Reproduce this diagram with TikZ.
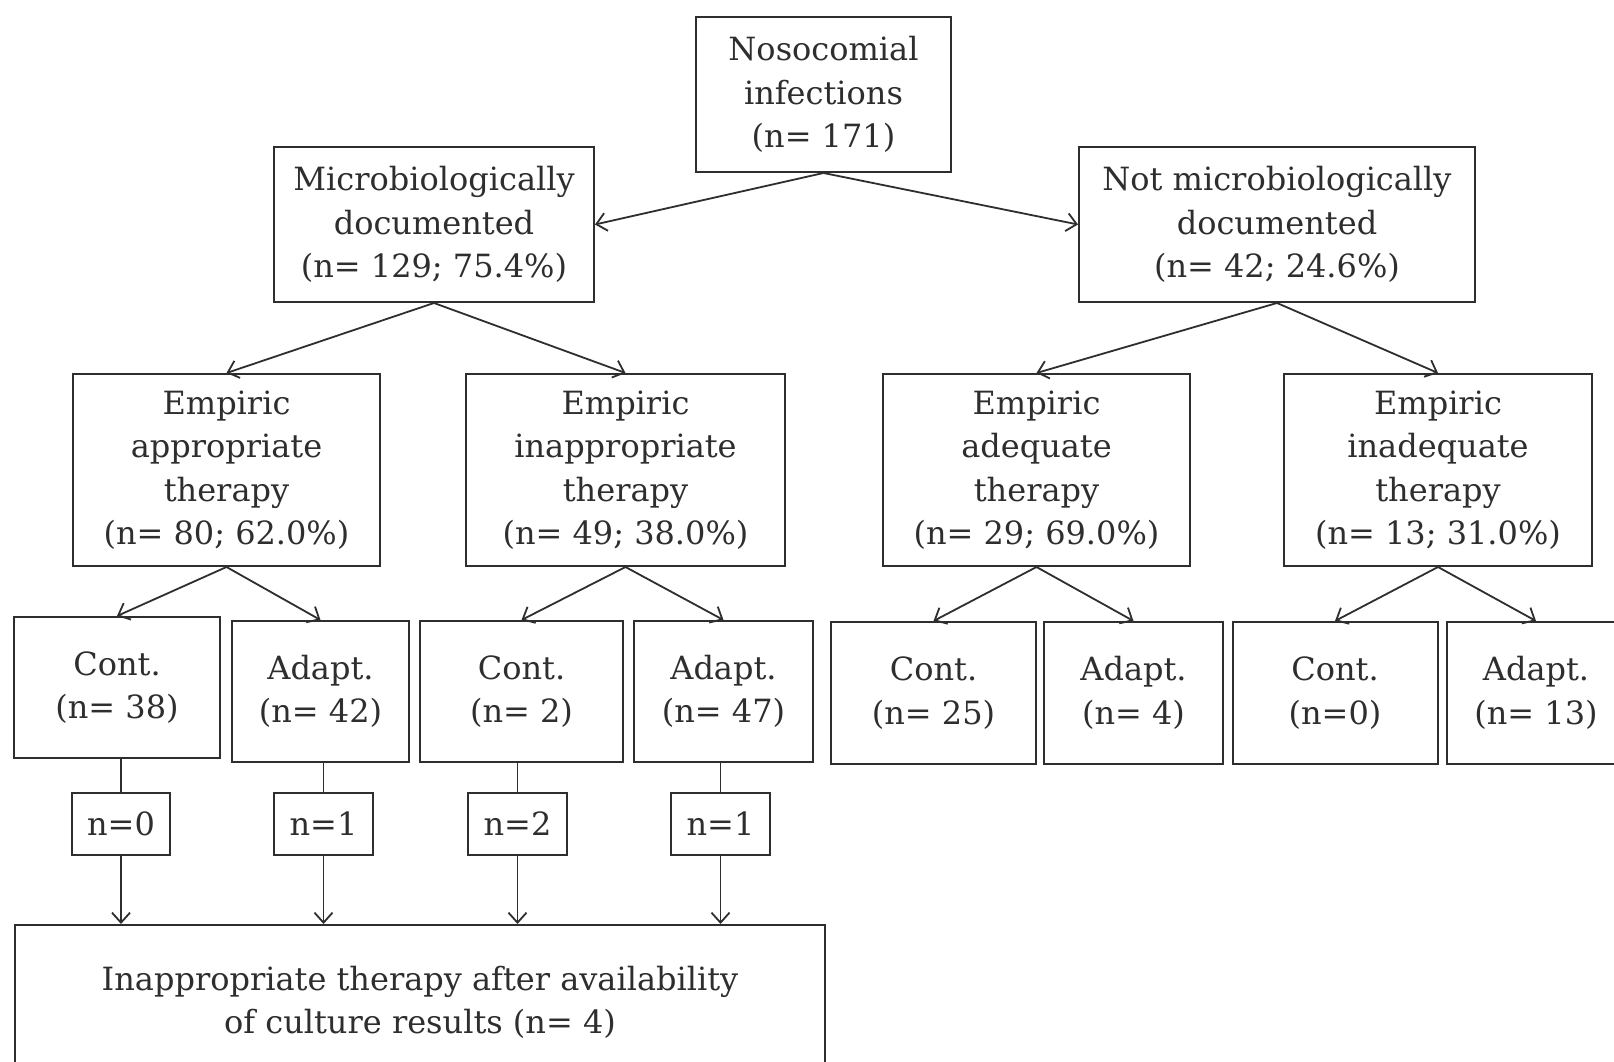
\documentclass[tikz,border=0pt]{standalone}
\usepackage{fontspec}
\setmainfont{DejaVu Serif}
\usetikzlibrary{arrows.meta}
\definecolor{ink}{HTML}{2E2E2E}
\begin{document}
\begin{tikzpicture}[x=1pt,y=-1pt,
  box/.style={draw=ink, line width=2pt, rectangle, align=center, inner sep=0pt, text=ink,
    font=\fontsize{32}{43.5}\selectfont},
  arr/.style={draw=ink, line width=1.8pt, -{Straight Barb[length=10pt,width=18pt,line width=1.8pt]}},
  ln/.style={draw=ink, line width=1.8pt}]
\clip (0,0) rectangle (1614,1062);
\fill[white] (0,0) rectangle (1614,1062);
% level 0/1
\node[box, minimum width=255pt, minimum height=155pt] (root) at (823.5,94.5) {Nosocomial\\infections\\(n= 171)};
\node[box, minimum width=320pt, minimum height=155pt] (mic) at (434,224.5) {Microbiologically\\documented\\(n= 129; 75.4\%)};
\node[box, minimum width=396pt, minimum height=155pt] (nmic) at (1277,224.5) {Not microbiologically\\documented\\(n= 42; 24.6\%)};
% level 2
\node[box, minimum width=307pt, minimum height=192pt] (e1) at (226.5,470) {Empiric\\appropriate\\therapy\\(n= 80; 62.0\%)};
\node[box, minimum width=319pt, minimum height=192pt] (e2) at (625.5,470) {Empiric\\inappropriate\\therapy\\(n= 49; 38.0\%)};
\node[box, minimum width=307pt, minimum height=192pt] (e3) at (1036.5,470) {Empiric\\adequate\\therapy\\(n= 29; 69.0\%)};
\node[box, minimum width=308pt, minimum height=192pt] (e4) at (1438,470) {Empiric\\inadequate\\therapy\\(n= 13; 31.0\%)};
% level 3
\node[box, minimum width=206pt, minimum height=141pt] (c1) at (117,687.5) {Cont.\\(n= 38)};
\node[box, minimum width=177pt, minimum height=141pt] (a1) at (320.5,691.5) {Adapt.\\(n= 42)};
\node[box, minimum width=203pt, minimum height=141pt] (c2) at (521.5,691.5) {Cont.\\(n= 2)};
\node[box, minimum width=179pt, minimum height=141pt] (a2) at (723.5,691.5) {Adapt.\\(n= 47)};
\node[box, minimum width=205pt, minimum height=142pt] (c3) at (933.5,693) {Cont.\\(n= 25)};
\node[box, minimum width=179pt, minimum height=142pt] (a3) at (1133.5,693) {Adapt.\\(n= 4)};
\node[box, minimum width=205pt, minimum height=142pt] (c4) at (1335,693) {Cont.\\(n=0)};
\node[box, minimum width=179pt, minimum height=142pt] (a4) at (1536,693) {Adapt.\\(n= 13)};
% small boxes
\node[box, minimum width=98pt, minimum height=62pt] (n1) at (121,824) {n=0};
\node[box, minimum width=99pt, minimum height=62pt] (n2) at (323.5,824) {n=1};
\node[box, minimum width=99pt, minimum height=62pt] (n3) at (517.5,824) {n=2};
\node[box, minimum width=99pt, minimum height=62pt] (n4) at (720.5,824) {n=1};
% bottom
\node[box, minimum width=810pt, minimum height=155pt] (bot) at (420,1002.5) {Inappropriate therapy after availability\\of culture results (n= 4)};
% connectors
\draw[arr] (root.south) -- (mic.east);
\draw[arr] (root.south) -- (nmic.west);
\draw[arr] (mic.south) -- (e1.north);
\draw[arr] (mic.south) -- (e2.north);
\draw[arr] (nmic.south) -- (e3.north);
\draw[arr] (nmic.south) -- (e4.north);
\draw[arr] (e1.south) -- (c1.north);
\draw[arr] (e1.south) -- (a1.north);
\draw[arr] (e2.south) -- (c2.north);
\draw[arr] (e2.south) -- (a2.north);
\draw[arr] (e3.south) -- (c3.north);
\draw[arr] (e3.south) -- (a3.north);
\draw[arr] (e4.south) -- (c4.north);
\draw[arr] (e4.south) -- (a4.north);
\foreach \s/\n in {c1/n1, a1/n2, c2/n3, a2/n4}{
  \draw[ln] (\s.south -| \n.north) -- (\n.north);
  \draw[arr] (\n.south) -- (\n.south |- bot.north);
}
\end{tikzpicture}
\end{document}
